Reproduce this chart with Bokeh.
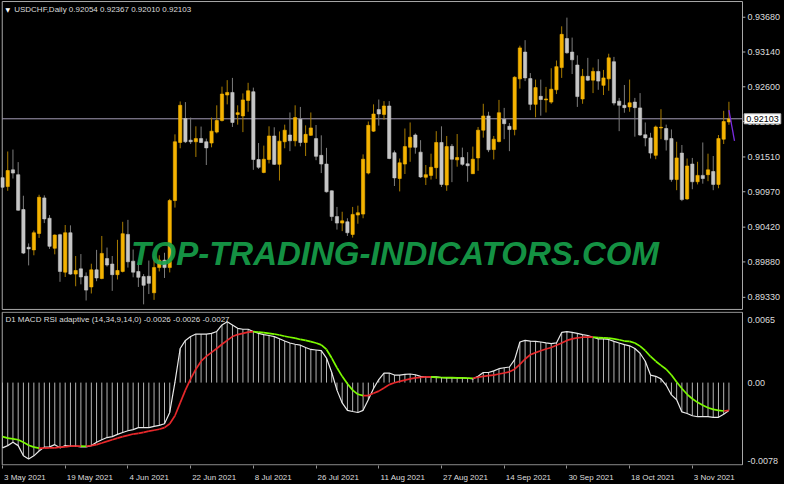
from bokeh.plotting import figure
from bokeh.layouts import column
from bokeh.models import Range1d, FixedTicker, Label, ColumnDataSource
from bokeh.core.properties import value
from bokeh.embed import file_html
from bokeh.resources import INLINE

# ---------------- data (USDCHF daily, from 3 May 2021) ----------------
opens = [
    0.91189, 0.91050, 0.91310, 0.91235, 0.90694, 0.90107, 0.90067, 0.90322, 0.90874, 0.90558,
    0.90092, 0.90303, 0.89721, 0.90333, 0.89691, 0.89772, 0.89657, 0.89491, 0.89757, 0.89622,
    0.89932, 0.89847, 0.89682, 0.89732, 0.90307, 0.89892, 0.89732, 0.89652, 0.89657, 0.89401,
    0.89792, 0.89907, 0.89792, 0.90833, 0.91735, 0.92106, 0.91771, 0.91746, 0.91795, 0.91746,
    0.91726, 0.91896, 0.92076, 0.92472, 0.92512, 0.92171, 0.92147, 0.92387, 0.92523, 0.91471,
    0.91269, 0.91471, 0.91836, 0.91395, 0.91746, 0.91851, 0.91761, 0.92096, 0.91735, 0.91846,
    0.91795, 0.91535, 0.91400, 0.90984, 0.90584, 0.90483, 0.90503, 0.90307, 0.90608, 0.90623,
    0.91260, 0.91911, 0.92246, 0.92171, 0.92302, 0.91576, 0.91175, 0.91400, 0.91660, 0.91851,
    0.91585, 0.91194, 0.91224, 0.91344, 0.91735, 0.91074, 0.91675, 0.91465, 0.91501, 0.91404,
    0.91250, 0.91495, 0.91926, 0.92147, 0.91625, 0.91750, 0.92096, 0.91986, 0.91936, 0.92723,
    0.93139, 0.92727, 0.92327, 0.92452, 0.92396, 0.92362, 0.92553, 0.92898, 0.93349, 0.93139,
    0.92938, 0.92411, 0.92763, 0.92703, 0.92838, 0.92622, 0.92723, 0.92989, 0.92377, 0.92312,
    0.92287, 0.92362, 0.92272, 0.91855, 0.91806, 0.91535, 0.91961, 0.91952, 0.91795, 0.91159,
    0.91570, 0.90859, 0.91400, 0.91125, 0.91224, 0.91235, 0.91284, 0.91084, 0.91786, 0.92054,
]
highs = [
    0.91460, 0.91595, 0.91625, 0.91430, 0.90908, 0.90167, 0.90367, 0.90923, 0.90914, 0.90608,
    0.90307, 0.90318, 0.90453, 0.90448, 0.89972, 0.90002, 0.89717, 0.89852, 0.90067, 0.90283,
    0.90103, 0.89972, 0.90223, 0.90503, 0.90533, 0.90073, 0.89871, 0.89691, 0.89901, 0.89968,
    0.89983, 0.90022, 0.90859, 0.91861, 0.92372, 0.92362, 0.92121, 0.91986, 0.91982, 0.91795,
    0.92121, 0.92312, 0.92602, 0.92703, 0.92738, 0.92312, 0.92497, 0.92662, 0.92587, 0.91726,
    0.91686, 0.91986, 0.91971, 0.91906, 0.92012, 0.92201, 0.92312, 0.92287, 0.92001, 0.92201,
    0.92006, 0.91846, 0.91651, 0.90990, 0.90734, 0.90659, 0.90558, 0.90734, 0.90754, 0.91550,
    0.92061, 0.92327, 0.92402, 0.92377, 0.92377, 0.91610, 0.91486, 0.91952, 0.92046, 0.91876,
    0.91771, 0.91385, 0.91561, 0.91911, 0.91986, 0.91836, 0.91711, 0.91866, 0.91655, 0.91585,
    0.91671, 0.91976, 0.92336, 0.92212, 0.91836, 0.92396, 0.92272, 0.92036, 0.92763, 0.93238,
    0.93324, 0.92813, 0.92712, 0.92712, 0.92598, 0.92888, 0.93008, 0.93539, 0.93674, 0.93364,
    0.93088, 0.92877, 0.93049, 0.92898, 0.93028, 0.92862, 0.93113, 0.93064, 0.92427, 0.92628,
    0.92712, 0.92427, 0.92502, 0.92046, 0.91885, 0.91997, 0.92252, 0.92012, 0.91937, 0.91746,
    0.91696, 0.91486, 0.91495, 0.91435, 0.91735, 0.91561, 0.91525, 0.91851, 0.92227, 0.92367,
]
lows = [
    0.90904, 0.90984, 0.91175, 0.90675, 0.90002, 0.89826, 0.89983, 0.90253, 0.90483, 0.90082,
    0.89998, 0.89571, 0.89646, 0.89680, 0.89502, 0.89532, 0.89281, 0.89390, 0.89581, 0.89611,
    0.89807, 0.89431, 0.89607, 0.89717, 0.89792, 0.89641, 0.89491, 0.89221, 0.89381, 0.89291,
    0.89732, 0.89631, 0.89717, 0.90724, 0.91645, 0.91726, 0.91711, 0.91510, 0.91726, 0.91385,
    0.91660, 0.91876, 0.92061, 0.92327, 0.91976, 0.92012, 0.91896, 0.92212, 0.91310, 0.91325,
    0.91257, 0.91410, 0.91385, 0.91144, 0.91645, 0.91600, 0.91675, 0.91675, 0.91525, 0.91836,
    0.91460, 0.91260, 0.90957, 0.90518, 0.90382, 0.90358, 0.90283, 0.90258, 0.90473, 0.90558,
    0.91240, 0.91900, 0.91997, 0.92087, 0.91475, 0.91059, 0.90975, 0.91245, 0.91435, 0.91561,
    0.91185, 0.91074, 0.91159, 0.91170, 0.91044, 0.90984, 0.91119, 0.91359, 0.91374, 0.91125,
    0.91245, 0.91295, 0.91810, 0.91585, 0.91471, 0.91735, 0.91786, 0.91600, 0.91846, 0.92572,
    0.92688, 0.92237, 0.92126, 0.92151, 0.92201, 0.92336, 0.92487, 0.92738, 0.93113, 0.92798,
    0.92287, 0.92336, 0.92688, 0.92502, 0.92553, 0.92472, 0.92538, 0.92312, 0.91911, 0.92197,
    0.92212, 0.91825, 0.91836, 0.91675, 0.91486, 0.91475, 0.91786, 0.91610, 0.91125, 0.90994,
    0.90824, 0.90844, 0.91009, 0.91084, 0.91095, 0.91134, 0.90994, 0.91024, 0.91711, 0.92010,
]
closes = [
    0.91039, 0.91299, 0.91260, 0.90683, 0.90017, 0.90082, 0.90333, 0.90884, 0.90548, 0.90122,
    0.90298, 0.89732, 0.90333, 0.89691, 0.89747, 0.89646, 0.89442, 0.89757, 0.89631, 0.90012,
    0.89832, 0.89682, 0.89747, 0.90318, 0.89882, 0.89721, 0.89641, 0.89517, 0.89547, 0.89792,
    0.89907, 0.89792, 0.90833, 0.91746, 0.92312, 0.91746, 0.91746, 0.91795, 0.91735, 0.91651,
    0.91911, 0.92076, 0.92487, 0.92512, 0.92046, 0.92197, 0.92396, 0.92538, 0.91471, 0.91350,
    0.91475, 0.91836, 0.91395, 0.91756, 0.91926, 0.91761, 0.92121, 0.91735, 0.91861, 0.91961,
    0.91520, 0.91400, 0.90969, 0.90584, 0.90483, 0.90518, 0.90333, 0.90618, 0.90644, 0.91475,
    0.92001, 0.92177, 0.92177, 0.92302, 0.91486, 0.91185, 0.91419, 0.91671, 0.91816, 0.91660,
    0.91200, 0.91235, 0.91350, 0.91735, 0.91084, 0.91671, 0.91475, 0.91501, 0.91395, 0.91374,
    0.91475, 0.91926, 0.92147, 0.91621, 0.91786, 0.92197, 0.92027, 0.91936, 0.92748, 0.93204,
    0.92738, 0.92327, 0.92587, 0.92402, 0.92411, 0.92562, 0.92913, 0.93414, 0.93128, 0.93019,
    0.92448, 0.92763, 0.92703, 0.92838, 0.92688, 0.92738, 0.93049, 0.92347, 0.92312, 0.92276,
    0.92351, 0.92276, 0.91851, 0.91806, 0.91570, 0.91976, 0.91971, 0.91776, 0.91159, 0.91495,
    0.90848, 0.91370, 0.91125, 0.91224, 0.91175, 0.91310, 0.91084, 0.91795, 0.92061, 0.92103,
]
macd = [
    -0.00614, -0.00593, -0.00562, -0.00593, -0.00689, -0.00719, -0.00689, -0.00643, -0.00607, -0.00605,
    -0.00584, -0.00614, -0.00593, -0.00598, -0.00598, -0.00605, -0.00605, -0.00593, -0.00562, -0.00538,
    -0.00517, -0.00508, -0.00487, -0.00469, -0.00453, -0.00442, -0.00424, -0.00424, -0.00424, -0.00412,
    -0.00403, -0.00387, -0.00281, 0.00005, 0.00321, 0.00397, 0.00433, 0.00457, 0.00457, 0.00457,
    0.00463, 0.00481, 0.00542, 0.00572, 0.00542, 0.00511, 0.00502, 0.00502, 0.00481, 0.00463,
    0.00452, 0.00443, 0.00433, 0.00412, 0.00391, 0.00373, 0.00361, 0.00352, 0.00330, 0.00312,
    0.00307, 0.00300, 0.00231, 0.00095, -0.00071, -0.00191, -0.00261, -0.00272, -0.00281, -0.00261,
    -0.00161, -0.00055, 0.00029, 0.00090, 0.00090, 0.00071, 0.00071, 0.00077, 0.00081, 0.00074,
    0.00059, 0.00053, 0.00053, 0.00053, 0.00047, 0.00044, 0.00044, 0.00044, 0.00044, 0.00041,
    0.00035, 0.00059, 0.00095, 0.00095, 0.00110, 0.00131, 0.00140, 0.00147, 0.00216, 0.00382,
    0.00397, 0.00391, 0.00388, 0.00382, 0.00373, 0.00367, 0.00373, 0.00472, 0.00479, 0.00472,
    0.00463, 0.00452, 0.00443, 0.00427, 0.00412, 0.00412, 0.00406, 0.00388, 0.00373, 0.00357,
    0.00346, 0.00321, 0.00276, 0.00201, 0.00071, 0.00059, 0.00035, -0.00025, -0.00116, -0.00161,
    -0.00276, -0.00291, -0.00312, -0.00321, -0.00321, -0.00321, -0.00327, -0.00327, -0.00297, -0.00262,
]
signal = [
    -0.00508, -0.00523, -0.00529, -0.00538, -0.00562, -0.00589, -0.00607, -0.00616, -0.00616, -0.00614,
    -0.00614, -0.00607, -0.00605, -0.00598, -0.00598, -0.00598, -0.00599, -0.00593, -0.00584, -0.00568,
    -0.00553, -0.00538, -0.00523, -0.00508, -0.00496, -0.00484, -0.00478, -0.00469, -0.00457, -0.00448,
    -0.00439, -0.00424, -0.00387, -0.00312, -0.00191, -0.00071, 0.00035, 0.00126, 0.00201, 0.00246,
    0.00285, 0.00321, 0.00361, 0.00397, 0.00433, 0.00452, 0.00463, 0.00475, 0.00479, 0.00475,
    0.00470, 0.00463, 0.00457, 0.00448, 0.00436, 0.00427, 0.00418, 0.00406, 0.00397, 0.00385,
    0.00373, 0.00355, 0.00312, 0.00231, 0.00140, 0.00059, -0.00010, -0.00071, -0.00110, -0.00122,
    -0.00122, -0.00100, -0.00080, -0.00050, -0.00019, -0.00001, 0.00011, 0.00023, 0.00035, 0.00044,
    0.00050, 0.00053, 0.00053, 0.00050, 0.00048, 0.00047, 0.00046, 0.00045, 0.00044, 0.00043,
    0.00041, 0.00050, 0.00059, 0.00065, 0.00071, 0.00081, 0.00090, 0.00101, 0.00126, 0.00171,
    0.00222, 0.00262, 0.00282, 0.00300, 0.00316, 0.00330, 0.00352, 0.00373, 0.00397, 0.00412,
    0.00421, 0.00427, 0.00427, 0.00427, 0.00424, 0.00421, 0.00418, 0.00412, 0.00403, 0.00391,
    0.00388, 0.00373, 0.00343, 0.00300, 0.00246, 0.00201, 0.00162, 0.00126, 0.00071, 0.00005,
    -0.00055, -0.00110, -0.00152, -0.00186, -0.00213, -0.00236, -0.00252, -0.00261, -0.00267, -0.00262,
]
price_ticks = [0.93680, 0.93140, 0.92600, 0.92060, 0.91510, 0.90970, 0.90420, 0.89880, 0.89330]
sub_ticks = [0.0059, 0.0, -0.0074]
sub_tick_labels = ["0.0065", "0.00", "-0.0078"]
date_idx = [0, 12, 24, 36, 48, 60, 72, 84, 96, 108, 120, 132]
date_labels = ["3 May 2021", "19 May 2021", "4 Jun 2021", "22 Jun 2021", "8 Jul 2021",
               "26 Jul 2021", "11 Aug 2021", "27 Aug 2021", "14 Sep 2021", "30 Sep 2021",
               "18 Oct 2021", "3 Nov 2021"]
trend_x = [139.0, 140.07]
trend_y = [0.92237, 0.91761]
symbol = "USDCHF,Daily"
ind_title = "D1 MACD RSI adaptive (14,34,9,14,0) -0.0026 -0.0026 -0.0027"
watermark = "TOP-TRADING-INDICATORS.COM"

# ---------------- layout constants ----------------
FONT = "Liberation Sans"
TXT = "#dcdcdc"
FRAME = "#a8a8a8"
PX_PER_BAR = 740 / 141.6
X0 = -2 / PX_PER_BAR
X1 = X0 + 784 / PX_PER_BAR
XL, XB = -0.05, 141.6           # left / right border of the chart area (bar units)
MAIN_TOP, MAIN_BOT = 0.93924, 0.89142
SUB_TOP, SUB_BOT = 0.00662, -0.00774

n = len(closes)
idx = list(range(n))
xr = Range1d(X0, X1)

bull = [c >= o for o, c in zip(opens, closes)]
src = ColumnDataSource(dict(
    x=idx, high=highs, low=lows,
    top=[max(o, c) for o, c in zip(opens, closes)],
    bot=[min(o, c) for o, c in zip(opens, closes)],
    body=["#f5b300" if b else "#c6c6c6" for b in bull],
    wick=["#a87c00" if b else "#7c7c7c" for b in bull],
))


def base_fig(h, yr, bottom, xloc):
    p = figure(width=784, height=h, x_range=xr, y_range=yr, output_backend="svg",
               toolbar_location=None, y_axis_location=None, x_axis_location=xloc,
               min_border_left=0, min_border_right=0, min_border_top=0,
               min_border_bottom=bottom, background_fill_color="black",
               border_fill_color="black", outline_line_color=None)
    p.xgrid.visible = False
    p.ygrid.visible = False
    return p


def right_labels(p, ys, labels, ticks=True):
    if ticks:
        p.segment(x0=[XB] * len(ys), x1=[XB + 0.55] * len(ys), y0=ys, y1=ys,
                  line_color="#b0b0b0", line_width=1)
    p.text(x=[XB + 0.95] * len(ys), y=ys, text=labels, text_font=value(FONT),
           text_font_size=value("9px"), text_color=TXT, text_align="left",
           text_baseline="middle")


# ---------------- price panel ----------------
p1 = base_fig(311, Range1d(0.89110, 0.93940), 0, None)
p1.quad(left=[XL], right=[XB], top=[MAIN_TOP], bottom=[MAIN_BOT], fill_color=None,
        line_color=FRAME, line_width=1)
right_labels(p1, price_ticks, [f"{t:.5f}" for t in price_ticks])

p1.segment(x0=[XL], x1=[XB], y0=[closes[-1]], y1=[closes[-1]], line_color="#a39bb5",
           line_width=1)
p1.segment(x0="x", y0="low", x1="x", y1="high", line_color="wick", line_width=1, source=src)
p1.vbar(x="x", width=0.62, top="top", bottom="bot", fill_color="body", line_color="body",
        line_width=0.6, source=src)
p1.line(trend_x, trend_y, line_color="#7b2be2", line_width=1.3)

p1.add_layout(Label(x=75.1, y=0.90007, text=watermark, text_font=FONT,
                    text_font_style="bold italic", text_font_size="33px",
                    text_color="#17a04a", text_alpha=0.93, text_align="center",
                    text_baseline="alphabetic"))
p1.add_layout(Label(x=5, y=302.3, x_units="screen", y_units="screen", text="\u25BC",
                    text_font="DejaVu Sans", text_font_size="6px", text_color="white",
                    text_baseline="middle"))
head = f"{symbol}  {opens[-1]:.5f} {highs[-1]:.5f} {lows[-1]:.5f} {closes[-1]:.5f}"
p1.add_layout(Label(x=13.7, y=302.3, x_units="screen", y_units="screen", text=head,
                    text_font=FONT, text_font_size="8px", text_color=TXT,
                    text_baseline="middle"))
p1.add_layout(Label(x=XB + 0.33, y=closes[-1], text=f"{closes[-1]:.5f}",
                    text_font=FONT, text_font_size="9px", text_color="black",
                    text_baseline="middle", text_align="left",
                    background_fill_color="white", border_line_color="#bbbbbb",
                    padding=2))

# ---------------- indicator panel ----------------
p2 = base_fig(173, Range1d(-0.00780, 0.00669), 18, "below")
p2.quad(left=[XL], right=[XB], top=[SUB_TOP], bottom=[SUB_BOT], fill_color=None,
        line_color=FRAME, line_width=1)
right_labels(p2, sub_ticks, sub_tick_labels, ticks=False)

p2.segment(x0=idx, y0=[0.0] * n, x1=idx, y1=macd, line_color="#b4b4b4", line_width=1)
p2.line(idx, macd, line_color="#e8e8e8", line_width=1.2)
sig_col = ["#7cfc00" if signal[i + 1] < signal[i] else "#e8282b" for i in range(n - 1)]
p2.segment(x0=idx[:-1], y0=signal[:-1], x1=idx[1:], y1=signal[1:], line_color=sig_col,
           line_width=1.7)

p2.add_layout(Label(x=4.9, y=145.6, x_units="screen", y_units="screen", text=ind_title,
                    text_font=FONT, text_font_size="8px", text_color=TXT,
                    text_baseline="middle"))

# date axis: tick marks at the bars (minor ticks), left-aligned labels (shifted majors)
CW = {" ": .278, "M": .833, "J": .5, "A": .667, "S": .667, "O": .778, "N": .722,
      "a": .556, "y": .5, "u": .556, "n": .556, "l": .222, "g": .556, "e": .556,
      "p": .556, "c": .5, "t": .278, "o": .556, "v": .5}
def text_w(s, size=8.0):
    return sum(CW.get(ch, .556) for ch in s) * size

label_pos = [i + (text_w(s) / 2 + 1.5) / PX_PER_BAR for i, s in zip(date_idx, date_labels)]
xa = p2.xaxis[0]
xa.ticker = FixedTicker(ticks=label_pos, minor_ticks=date_idx)
xa.major_label_overrides = {pos: s for pos, s in zip(label_pos, date_labels)}
xa.axis_line_color = None
xa.major_tick_in = 0
xa.major_tick_out = 0
xa.minor_tick_in = 0
xa.minor_tick_out = 3
xa.minor_tick_line_color = "#909090"
xa.major_label_text_font = FONT
xa.major_label_text_font_size = "8px"
xa.major_label_text_color = TXT
xa.major_label_standoff = 4

layout = column(p1, p2, spacing=0, styles={"background-color": "black"})
open("out.html", "w").write(file_html(layout, INLINE))
